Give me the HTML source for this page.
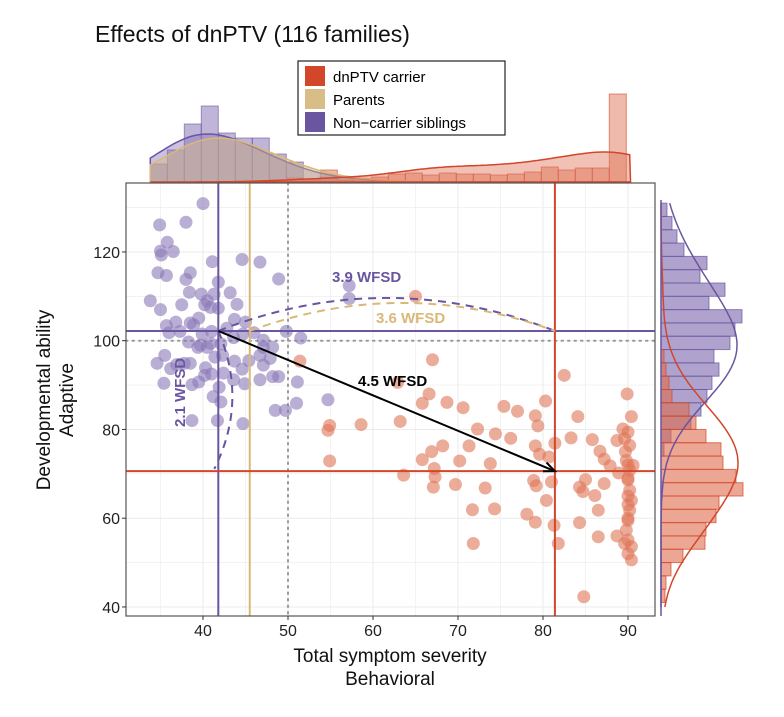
<!DOCTYPE html>
<html><head><meta charset="utf-8">
<style>
body{margin:0;background:#fff;width:784px;height:712px;overflow:hidden;font-family:"Liberation Sans",Arial,sans-serif}
svg text{font-family:"Liberation Sans",Arial,sans-serif}
</style></head>
<body>
<svg id="chart" width="784" height="712" viewBox="0 0 784 712" xmlns="http://www.w3.org/2000/svg">
<text x="95" y="42" font-size="23" fill="#111">Effects of dnPTV (116 families)</text>
<g id="grid"></g>
<g id="marks"></g>
<g id="axes"></g>
<text transform="translate(50,400) rotate(-90)" text-anchor="middle" font-size="19" fill="#111">Developmental ability</text>
<text transform="translate(73,400) rotate(-90)" text-anchor="middle" font-size="19" fill="#111">Adaptive</text>
<text x="390" y="662" text-anchor="middle" font-size="19" fill="#111">Total symptom severity</text>
<text x="390" y="685" text-anchor="middle" font-size="19" fill="#111">Behavioral</text>
<g>
<rect x="298" y="61" width="207" height="74" fill="#fff" stroke="#222" stroke-width="1.2"/>
<g><rect x="305" y="66" width="20" height="20" fill="#d2462a"/><text x="333" y="82" font-size="15">dnPTV carrier</text></g>
<g><rect x="305" y="89" width="20" height="20" fill="#d9bd86"/><text x="333" y="105" font-size="15">Parents</text></g>
<g><rect x="305" y="112" width="20" height="20" fill="#6a55a0"/><text x="333" y="128" font-size="15">Non−carrier siblings</text></g>
</g>
</svg>
<script>
const sibX=[40,34.9,38,35.8,35,36.5,35.1,41.1,44.6,46.7,34.7,35.7,38.5,38,48.9,41.8,33.8,35,37.5,38.4,39.8,40.5,40.2,40.9,41.3,41.8,43.2,44,38.5,39.5,38.9,35.7,36.8,36,37.3,39.9,41,42.8,43.7,45,44.7,46,47.1,49.8,51.5,40.9,39.7,38.3,39.4,40.5,42.1,34.6,35.5,36.2,36.9,37.8,38.5,40.3,41.4,42.3,43.7,44.6,45.4,47.1,47.9,47.1,48.2,48.9,46.7,44.9,43.6,42.4,38.7,39.5,40.2,41,41.9,35.4,51.1,51,48.5,49.7,46.7,42.1,41.2,38.7,41.7,44.7,48.2,43.6,57.2,57.2,54.7];
const sibY=[130.9,126.1,126.7,122.2,120.2,120.1,119.3,117.8,118.3,117.7,115.3,114.7,115.3,113.8,113.9,113.2,109,107,108.1,110.9,110.5,109,108.1,107.5,110.5,107.3,110.8,108.2,104,105.1,103.6,103.4,104.2,101.8,102.1,101.5,102.1,102.8,104.8,104.2,101.5,101.8,100.1,102.1,100.6,99.4,99,99.7,98.5,98.5,99.3,94.9,96.7,93.7,94.6,94.9,94.9,93.9,96.3,96.7,95.4,93.6,95.5,94.5,96,98.5,91.9,91.9,91.2,90.3,91.2,92.7,90.1,90.7,92.2,92.5,89.5,90.4,90.7,85.9,84.3,84.3,96.7,86.2,87.4,82,82,81.3,98.5,100.7,112.4,109.5,86.7];
const carX=[51.4,54.9,54.7,54.9,58.6,63.2,63.6,67,62.9,66.6,65.8,68.7,70.6,75.4,77,79.1,80.3,82.5,84.1,79.4,72.3,74.4,76.2,71.3,68.2,66.9,65.8,70.2,73.8,67.2,67.3,67.1,69.7,73.2,71.7,74.3,71.8,79.1,79.6,80.7,81.4,83.3,85.8,86.7,87.2,87.9,88.7,89.4,89.9,90.4,88.9,78.9,79.2,81,80.4,78.1,79.1,81.3,81.8,84.3,85,84.7,86.1,86.5,84.3,86.5,87.2,84.8,88.7,89.8,90.2,90,90.2,90.4,90.2,90,89.8,90,90.4,90.4,89.6,90.6,90.2,89.6,90,65,90,90,90,90,90,90,89.7];
const carY=[95.4,80.9,79.8,72.9,81.1,81.8,69.7,95.7,90.6,88,85.9,86.1,84.9,85.2,84.1,83.1,86.4,92.2,82.9,80.8,80.1,79,78,76.3,76.3,75,73.2,72.9,72.3,71.2,69.3,67,67.6,66.8,61.9,62.1,54.3,76.3,74.4,73.8,76.9,78.1,77.7,75.1,73.3,71.8,77.5,80.1,88,82.9,70.2,68.5,67.3,68.2,64,60.9,59.1,58.4,54.3,67,68.7,66,65.1,61.8,59,55.8,67.8,42.3,56,73,70.8,68.6,66.3,64,61.8,59.5,57.3,55.1,53.6,50.6,54.3,71.9,76.4,77.9,79.4,110,69,72,65,63,60,52,75];
const xTicks=[40,50,60,70,80,90];
const yTicks=[40,60,80,100,120];
const sibMean=[41.8,102.2], parMean=[45.5,102.2], carMean=[81.4,70.6];
const topBinStart=33.8, topBinW=2;
const topSib=[18,32,58,76,49,44,44,28,20,3,5,2,1,1,0,0,0,0,0,0,0,0,0,0,0,0,0,0];
const topCar=[0,0,0,0,0,0,0,2,4,2,12,2,1,5,8,9,7,9,8,8,7,8,10,15,12,14,14,88];
const rightStart=131, rightW=3;
const rightSib=[6,11,16,23,46,39,64,48,81,74,69,53,58,51,46,40,30,10,3,0,0,0,0,0,0,0,0,0,0,0];
const rightCar=[0,0,0,0,0,0,0,0,0,0,0,3,5,8,11,28,35,45,60,62,75,82,58,55,45,44,22,10,5,4];

const NS="http://www.w3.org/2000/svg";
const L=126,R=655,T=183,B=616;
const sx=v=>203+(v-40)*8.5;
const sy=v=>340.7-(v-100)*4.4375;
function mk(tag,attrs,parent){const e=document.createElementNS(NS,tag);for(const k in attrs)e.setAttribute(k,attrs[k]);parent.appendChild(e);return e;}
const grid=document.getElementById('grid'),marks=document.getElementById('marks'),axes=document.getElementById('axes');

const bg=mk('rect',{x:L,y:T,width:R-L,height:B-T,fill:'#fff'},grid);


for(let v=35;v<=90;v+=5){const g=mk('line',{x1:sx(v),x2:sx(v),y1:T,y2:B,stroke:'#ebebeb','stroke-width':v%10?0.6:1},grid);}
for(let v=40;v<=130;v+=10){const g=mk('line',{x1:L,x2:R,y1:sy(v),y2:sy(v),stroke:'#ebebeb','stroke-width':v%20?0.6:1},grid);}
let d1=mk('line',{x1:sx(50),x2:sx(50),y1:T,y2:B,stroke:'#999','stroke-width':2,'stroke-dasharray':'1.5 5','stroke-linecap':'round'},grid);

let d2=mk('line',{x1:L,x2:R,y1:sy(100),y2:sy(100),stroke:'#999','stroke-width':2,'stroke-dasharray':'1.5 5','stroke-linecap':'round'},grid);


const topBase=182, tops=1;
function histTop(arr,fill,stroke,op,name){arr.forEach((c,i)=>{if(!c)return;const x0=sx(topBinStart+i*topBinW),x1=sx(topBinStart+(i+1)*topBinW);const r=mk('rect',{x:x0,y:topBase-c*tops,width:x1-x0,height:c*tops,fill:fill,'fill-opacity':op,stroke:stroke,'stroke-opacity':0.6,'stroke-width':1},marks);});}
histTop(topSib,'#8a78b8','#6a55a0',0.55,'top-hist-bar-siblings');
histTop(topCar,'#e0765a','#d2462a',0.5,'top-hist-bar-carrier');
function kde(vals,bw,at){let s=0;for(const v of vals)s+=Math.exp(-0.5*((at-v)/bw)**2);return s;}
function topDensity(vals,bw,peak,fill,stroke,name){let mx=0,arr=[];for(let v=33.8;v<=90.3;v+=0.4){const k=kde(vals,bw,v);arr.push([v,k]);mx=Math.max(mx,k);}
 let d='M'+sx(33.8)+','+topBase;arr.forEach(([v,k])=>d+=' L'+sx(v).toFixed(1)+','+(topBase-k/mx*peak).toFixed(1));d+=' L'+sx(90.3)+','+topBase+'Z';
 const p=mk('path',{d:d,fill:fill,'fill-opacity':0.45,stroke:stroke,'stroke-width':1.5},marks);}
topDensity(sibX,4,48,'#8a78b8','#6a55a0','top-density-siblings');
topDensity(sibX.map(v=>v+1.2),4.2,44,'#d9bd86','#d9b878','top-density-parents');
topDensity(carX,5,30,'#e0765a','#d2462a','top-density-carrier');

const rBase=661;
function histR(arr,fill,stroke,op,name){arr.forEach((c,i)=>{if(!c)return;const y0=sy(rightStart-i*rightW),y1=sy(rightStart-(i+1)*rightW);const r=mk('rect',{x:rBase,y:y0,width:c,height:y1-y0,fill:fill,'fill-opacity':op,stroke:stroke,'stroke-opacity':0.7,'stroke-width':1},marks);});}
histR(rightSib,'#7a66ac','#6a55a0',0.6,'right-hist-bar-siblings');
histR(rightCar,'#dd6a4c','#d2462a',0.6,'right-hist-bar-carrier');
function rDensity(vals,bw,peak,stroke,name){let arr=[],mx=0;for(let v=40;v<=131;v+=0.5){const k=kde(vals,bw,v);arr.push([v,k]);mx=Math.max(mx,k);}
 let d='';arr.forEach(([v,k],i)=>d+=(i?' L':'M')+(rBase+k/mx*peak).toFixed(1)+','+sy(v).toFixed(1));
 const p=mk('path',{d:d,fill:'none',stroke:stroke,'stroke-width':1.5},marks);}
rDensity(sibY,8,76,'#6a55a0','right-density-siblings');
rDensity(carY,7,77,'#d2462a','right-density-carrier');
const ax2=mk('line',{x1:rBase,x2:rBase,y1:200,y2:B,stroke:'#6a55a0','stroke-width':1.5},marks);


sibX.forEach((x,i)=>{const c=mk('circle',{cx:sx(x),cy:sy(sibY[i]),r:6.5,fill:'#8a78b8','fill-opacity':0.6},marks);});
carX.forEach((x,i)=>{const c=mk('circle',{cx:sx(x),cy:sy(carY[i]),r:6.5,fill:'#df7456','fill-opacity':0.6},marks);});

function ln(x1,y1,x2,y2,col,w,name,dash){const e=mk('line',{x1,y1,x2,y2,stroke:col,'stroke-width':w},marks);if(dash)e.setAttribute('stroke-dasharray',dash);return e;}
ln(sx(sibMean[0]),T,sx(sibMean[0]),B,'#6a55a0',2,'sibling-mean-x');
ln(L,sy(sibMean[1]),R,sy(sibMean[1]),'#6a55a0',2,'sibling-mean-y');
ln(sx(parMean[0]),T,sx(parMean[0]),B,'#d9b878',2,'parent-mean-x');
ln(sx(carMean[0]),T,sx(carMean[0]),B,'#d2462a',2,'carrier-mean-x');
ln(L,sy(carMean[1]),R,sy(carMean[1]),'#d2462a',2,'carrier-mean-y');

function path(d,col,name,w){const p=mk('path',{d:d,fill:'none',stroke:col,'stroke-width':w||2,'stroke-dasharray':'8 6'},marks);}
const sX=sx(sibMean[0]),sY=sy(sibMean[1]),cX=sx(carMean[0]),cY=sy(carMean[1]),pX=sx(parMean[0]);
path(`M${sX},${sY} Q${(sX+cX)/2},${sY-66} ${cX},${sY}`,'#6a55a0','arc-siblings-vs-carrier');
path(`M${pX},${sY} Q${(pX+cX)/2},${sY-56} ${cX},${sY}`,'#d9b878','arc-parents-vs-carrier');
path(`M${sX},${sY} Q${sX+30},${sY+70} ${sX-4},${sY+138}`,'#6a55a0','arc-siblings-vs-parents');
ln(sX,sY,cX,cY,'#000',2,'effect-arrow');
const ang=Math.atan2(cY-sY,cX-sX);
const ah=mk('path',{d:`M${cX-12*Math.cos(ang-0.4)},${cY-12*Math.sin(ang-0.4)} L${cX},${cY} L${cX-12*Math.cos(ang+0.4)},${cY-12*Math.sin(ang+0.4)}`,fill:'none',stroke:'#000','stroke-width':2},marks);


function txt(x,y,s,col,name,extra){const t=mk('text',Object.assign({x,y,'font-size':15,'font-weight':'bold',fill:col},extra||{}),marks);t.textContent=s;return t;}
txt(332,282,'3.9 WFSD','#6a55a0','label-3-9-wfsd');
txt(376,323,'3.6 WFSD','#d9b878','label-3-6-wfsd');
txt(358,386,'4.5 WFSD','#000','label-4-5-wfsd');
txt(0,0,'2.1 WFSD','#6a55a0','label-2-1-wfsd',{transform:'translate(185,427) rotate(-90)'});

const fr=mk('rect',{x:L,y:T,width:R-L,height:B-T,fill:'none',stroke:'#555','stroke-width':1.2},axes);

xTicks.forEach(v=>{const t=mk('line',{x1:sx(v),x2:sx(v),y1:B,y2:B+4,stroke:'#333'},axes);
 const l=mk('text',{x:sx(v),y:B+20,'text-anchor':'middle','font-size':16,fill:'#222'},axes);l.textContent=v;});
yTicks.forEach(v=>{const t=mk('line',{x1:L-4,x2:L,y1:sy(v),y2:sy(v),stroke:'#333'},axes);
 const l=mk('text',{x:L-6,y:sy(v)+6,'text-anchor':'end','font-size':16,fill:'#222'},axes);l.textContent=v;});
</script>
</body></html>
